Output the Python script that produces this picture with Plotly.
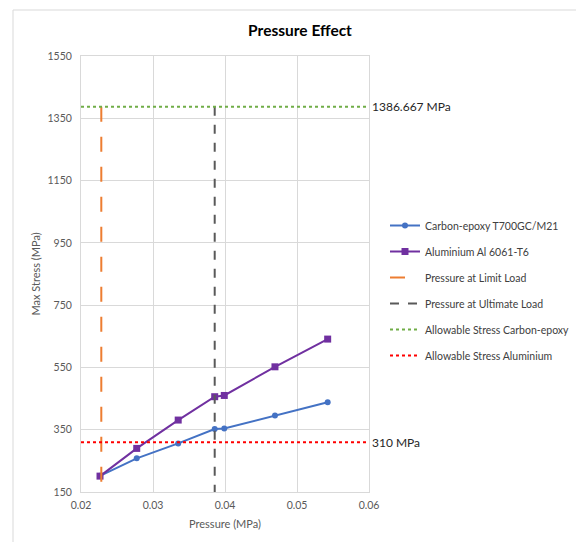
import plotly.graph_objects as go

# Data
pressure = [0.02264, 0.02774, 0.03350, 0.03857, 0.03990, 0.04694, 0.05426]
carbon_stress = [202, 258, 306, 352, 354, 396, 438]
alu_stress = [201, 290, 381, 456, 460, 552, 641]
limit_pressure = 0.02282
ultimate_pressure = 0.03857
allow_carbon = 1386.667
allow_alu = 310
y_min, y_max = 150, 1550
x_min, x_max = 0.02, 0.06
x_ticks = [0.02, 0.03, 0.04, 0.05, 0.06]
x_tick_labels = ["0.02", "0.03", "0.04", "0.05", "0.06"]
y_ticks = [150, 350, 550, 750, 950, 1150, 1350, 1550]

FONT = "Lato, 'Open Sans', sans-serif"
OFF = 8  # page body margin
W, H = 584, 542
L, R, T, B = 81 - OFF, 369 - OFF, 56 - OFF, 492 - OFF

def px_x(p):
    return (p - OFF - L) / (R - L)

def px_y(p):
    return (B - (p - OFF)) / (B - T)

fig = go.Figure()
fig.add_trace(go.Scatter(x=pressure, y=carbon_stress, mode="lines+markers",
                         name="Carbon-epoxy T700GC/M21", legendgroup="a",
                         line=dict(color="#4472C4", width=2),
                         marker=dict(symbol="circle", size=6, color="#4472C4")))
fig.add_trace(go.Scatter(x=pressure, y=alu_stress, mode="lines+markers",
                         name="Aluminium Al 6061-T6", legendgroup="b",
                         line=dict(color="#7030A0", width=2),
                         marker=dict(symbol="square", size=7, color="#7030A0")))
fig.add_trace(go.Scatter(x=[limit_pressure, limit_pressure], y=[allow_carbon, y_min], mode="lines",
                         name="Pressure at Limit Load", legendgroup="c",
                         line=dict(color="#ED7D31", width=2, dash="longdash")))
fig.add_trace(go.Scatter(x=[ultimate_pressure, ultimate_pressure], y=[allow_carbon, y_min], mode="lines",
                         name="Pressure at Ultimate Load", legendgroup="d",
                         line=dict(color="#595959", width=2, dash="dash")))
fig.add_trace(go.Scatter(x=[x_min, x_max], y=[allow_carbon, allow_carbon], mode="lines",
                         name="Allowable Stress Carbon-epoxy", legendgroup="e",
                         line=dict(color="#70AD47", width=2, dash="dot")))
fig.add_trace(go.Scatter(x=[x_min, x_max], y=[allow_alu, allow_alu], mode="lines",
                         name="Allowable Stress Aluminium", legendgroup="f",
                         line=dict(color="#FF0000", width=2, dash="dot")))

fig.add_annotation(x=x_max, y=allow_carbon, xref="x", yref="y", text="1386.667 MPa",
                   showarrow=False, xanchor="left", xshift=1,
                   font=dict(family=FONT, size=12, color="#262626"))
fig.add_annotation(x=x_max, y=allow_alu, xref="x", yref="y", text="310 MPa",
                   showarrow=False, xanchor="left", xshift=1,
                   font=dict(family=FONT, size=12, color="#262626"))

# frame
fig.add_shape(type="path", xref="paper", yref="paper",
              path=f"M {px_x(13)} {px_y(560)} L {px_x(13)} {px_y(10)} L {px_x(600)} {px_y(10)}",
              line=dict(color="#d9d9d9", width=1))

fig.update_layout(
    width=W, height=H,
    margin=dict(l=L, r=W - R, t=T, b=H - B),
    paper_bgcolor="white", plot_bgcolor="white",
    font=dict(family=FONT, size=10.5, color="#595959"),
    title=dict(text="<b>Pressure Effect</b>", x=(300 - OFF) / W, xanchor="center",
               y=1 - (31 - OFF) / H, yanchor="middle",
               font=dict(family=FONT, size=15.5, color="#000000")),
    legend=dict(x=px_x(385), y=px_y(211), xanchor="left", yanchor="top",
                font=dict(family=FONT, size=10.5, color="#404040"),
                tracegroupgap=7, bgcolor="rgba(0,0,0,0)"),
    xaxis=dict(range=[x_min, x_max], tickvals=x_ticks, ticktext=x_tick_labels,
               showgrid=True, gridcolor="#d9d9d9", gridwidth=1,
               showline=True, linecolor="#d9d9d9", mirror=True, zeroline=False,
               ticks="", ticklabelstandoff=3,
               title=dict(text="Pressure (MPa)", standoff=10,
                          font=dict(family=FONT, size=11, color="#595959"))),
    yaxis=dict(range=[y_min, y_max], tickvals=y_ticks,
               showgrid=True, gridcolor="#d9d9d9", gridwidth=1,
               showline=True, linecolor="#d9d9d9", mirror=True, zeroline=False,
               ticks="", ticklabelstandoff=6,
               title=dict(text="Max Stress (MPa)", standoff=4,
                          font=dict(family=FONT, size=11, color="#595959"))),
)

fig.write_html("out.html")
